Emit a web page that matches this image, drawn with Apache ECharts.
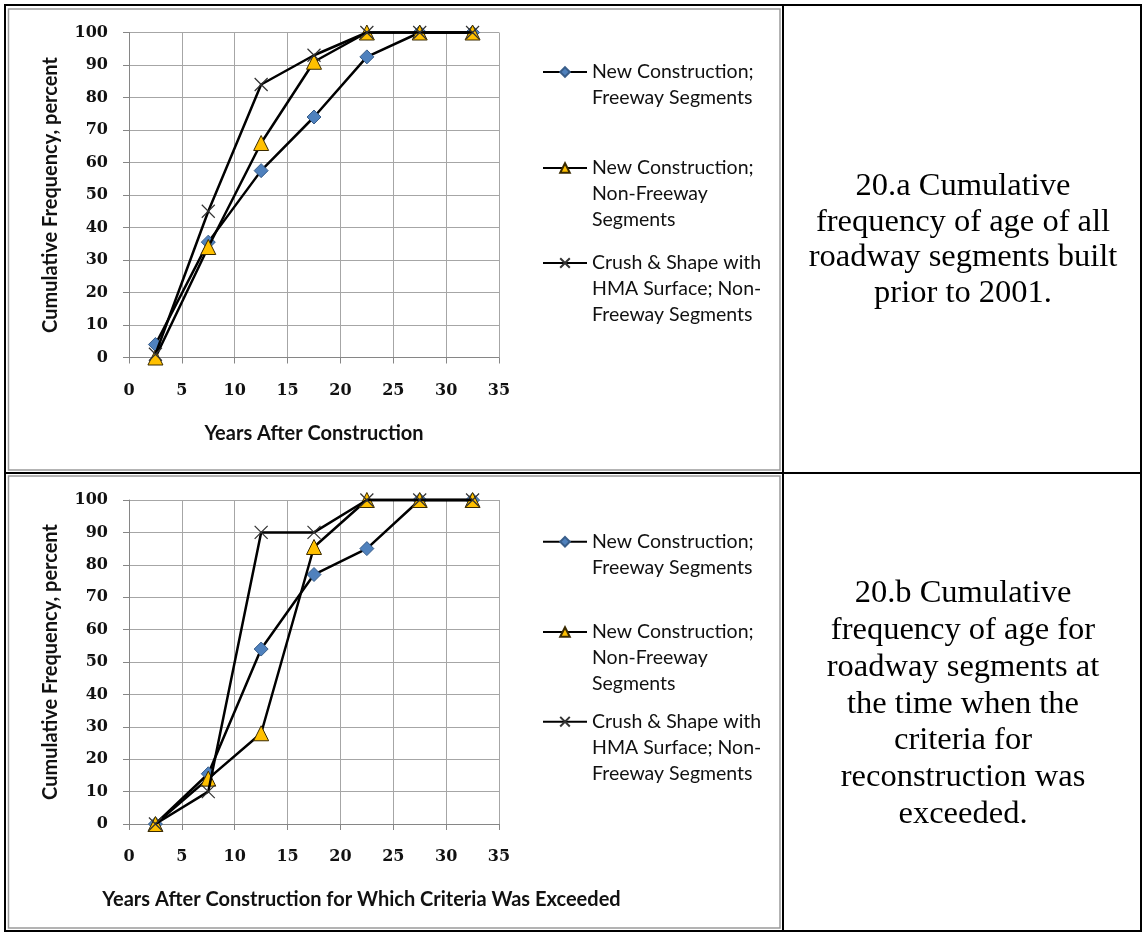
<!DOCTYPE html>
<html>
<head>
<meta charset="utf-8">
<style>
  html, body { margin: 0; padding: 0; background: #fff; }
  #chart { width: 1147px; height: 936px; }
</style>
<script src="https://cdn.jsdelivr.net/npm/echarts@6/dist/echarts.min.js"></script>
</head>
<body>
<div id="chart"></div>
<script>
// ---- data ----
const years = [2.5, 7.5, 12.5, 17.5, 22.5, 27.5, 32.5];
const seriesNames = [
  'New Construction; Freeway Segments',
  'New Construction; Non-Freeway Segments',
  'Crush & Shape with HMA Surface; Non-Freeway Segments'
];
const legendLines = [
  ['New Construction;', 'Freeway Segments'],
  ['New Construction;', 'Non-Freeway', 'Segments'],
  ['Crush & Shape with', 'HMA Surface; Non-', 'Freeway Segments']
];
// 20.a
const aFreeway    = [4, 35.5, 57.5, 74, 92.5, 100, 100];
const aNonFreeway = [0, 34, 66, 91, 100, 100, 100];
const aCrush      = [1, 45, 84, 93, 100, 100, 100];
// 20.b
const bFreeway    = [0, 15.5, 54, 77, 85, 100, 100];
const bNonFreeway = [0, 14, 28, 85.5, 100, 100, 100];
const bCrush      = [0, 10, 90, 90, 100, 100, 100];

const xTitles = ['Years After Construction', 'Years After Construction for Which Criteria Was Exceeded'];
const yTitle = 'Cumulative Frequency, percent';
const captionA = ['20.a Cumulative', 'frequency of age of all', 'roadway segments built', 'prior to 2001.'];
const captionB = ['20.b Cumulative', 'frequency of age for', 'roadway segments at', 'the time when the', 'criteria for', 'reconstruction was', 'exceeded.'];

// ---- styles ----
const crossPath = 'path://M0,0L10,10M0,10L10,0';
const markerStyles = [
  { symbol: 'diamond', symbolSize: 14, itemStyle: { color: '#4f81bd', borderColor: '#385d8a', borderWidth: 1 } },
  { symbol: 'triangle', symbolSize: 15, itemStyle: { color: '#ffc000', borderColor: '#3a2a00', borderWidth: 1 } },
  { symbol: crossPath, symbolSize: 13, itemStyle: { color: 'rgba(0,0,0,0)', borderColor: '#333', borderWidth: 1.2 } }
];
const sets = [[aFreeway, aNonFreeway, aCrush], [bFreeway, bNonFreeway, bCrush]];
const grids = [
  { left: 129, top: 32.5, width: 370, height: 325 },
  { left: 129, top: 500, width: 370, height: 324 }
];

const tickFont = { fontFamily: 'DejaVu Serif', fontWeight: 'bold', fontSize: 16, color: '#111' };
const titleFont = { fontFamily: 'Lato', fontWeight: 'bold', fontSize: 20, color: '#111' };
const axisGray = '#868686';
const gridGray = '#a6a6a6';

const xAxes = [0, 1].map(i => ({
  type: 'value', gridIndex: i, min: 0, max: 35, interval: 5,
  name: xTitles[i], nameLocation: 'middle', nameGap: 66,
  nameTextStyle: Object.assign({}, titleFont, i === 1 ? { padding: [0, 0, 0, 95] } : {}),
  axisLine: { show: true, lineStyle: { color: axisGray, width: 1 } },
  axisTick: { show: true, inside: false, length: 6, lineStyle: { color: axisGray } },
  axisLabel: Object.assign({ margin: 25 }, tickFont),
  splitLine: { show: true, showMinLine: true, showMaxLine: true, lineStyle: { color: gridGray, width: 1 } }
}));
const yAxes = [0, 1].map(i => ({
  type: 'value', gridIndex: i, min: 0, max: 100, interval: 10,
  name: yTitle, nameLocation: 'middle', nameGap: 68,
  nameTextStyle: titleFont,
  axisLine: { show: true, lineStyle: { color: axisGray, width: 1 } },
  axisTick: { show: true, inside: false, length: 6, lineStyle: { color: axisGray } },
  axisLabel: Object.assign({ margin: 21 }, tickFont),
  splitLine: { show: true, showMinLine: true, showMaxLine: true, lineStyle: { color: gridGray, width: 1 } }
}));

const series = [];
[0, 1].forEach(g => {
  sets[g].forEach((vals, k) => {
    series.push(Object.assign({
      type: 'line', name: seriesNames[k], xAxisIndex: g, yAxisIndex: g,
      data: years.map((x, j) => [x, vals[j]]),
      showSymbol: true, showAllSymbol: true, clip: false,
      lineStyle: { color: '#000', width: 2.5 },
      z: 2 + k
    }, JSON.parse(JSON.stringify(markerStyles[k]))));
  });
});

// legend: one small legend per item, icon aligned with the first text line
const legendFirstLine = [[72, 168, 263], [541.7, 632, 721.7]];
const legendLH = 26;
const legends = [];
[0, 1].forEach(g => {
  seriesNames.forEach((nm, k) => {
    const lines = legendLines[k];
    const pad = lines.length - 1;
    const textLines = new Array(pad).fill('').concat(lines);
    const h = textLines.length * legendLH;
    legends.push({
      show: true, orient: 'vertical', left: 542, top: legendFirstLine[g][k] - h / 2,
      padding: 0, itemWidth: 44, itemHeight: 12, itemGap: 0,
      selectedMode: false,
      data: [nm],
      formatter: () => textLines.join('\n'),
      textStyle: { fontFamily: 'Lato', fontSize: 19.5, color: '#111', lineHeight: legendLH }
    });
  });
});

const graphics = [
  // chart picture frames (thin gray)
  { type: 'rect', shape: { x: 8.5, y: 9, width: 771.5, height: 461 }, style: { fill: 'none', stroke: '#9a9a9a', lineWidth: 1.5 }, z: -1 },
  { type: 'rect', shape: { x: 8.5, y: 476, width: 771.5, height: 452 }, style: { fill: 'none', stroke: '#9a9a9a', lineWidth: 1.5 }, z: -1 },
  // table borders
  { type: 'rect', shape: { x: 5, y: 5, width: 1136, height: 926 }, style: { fill: 'none', stroke: '#000', lineWidth: 2 }, z: 10 },
  { type: 'line', shape: { x1: 783, y1: 5, x2: 783, y2: 931 }, style: { stroke: '#000', lineWidth: 2 }, z: 10 },
  { type: 'line', shape: { x1: 5, y1: 473, x2: 1141, y2: 473 }, style: { stroke: '#000', lineWidth: 2 }, z: 10 },
  // captions
  { type: 'text', x: 963, y: 240, style: { text: captionA.join('\n'), font: '32.5px "Liberation Serif"', fill: '#000', align: 'center', verticalAlign: 'middle', lineHeight: 35.5 }, z: 10 },
  { type: 'text', x: 963, y: 704, style: { text: captionB.join('\n'), font: '32.5px "Liberation Serif"', fill: '#000', align: 'center', verticalAlign: 'middle', lineHeight: 36.7 }, z: 10 }
];

const chart = echarts.init(document.getElementById('chart'), null, { renderer: 'canvas' });
chart.setOption({
  animation: false,
  backgroundColor: '#fff',
  grid: grids,
  xAxis: xAxes,
  yAxis: yAxes,
  legend: legends,
  series: series,
  graphic: graphics
});
</script>
</body>
</html>
